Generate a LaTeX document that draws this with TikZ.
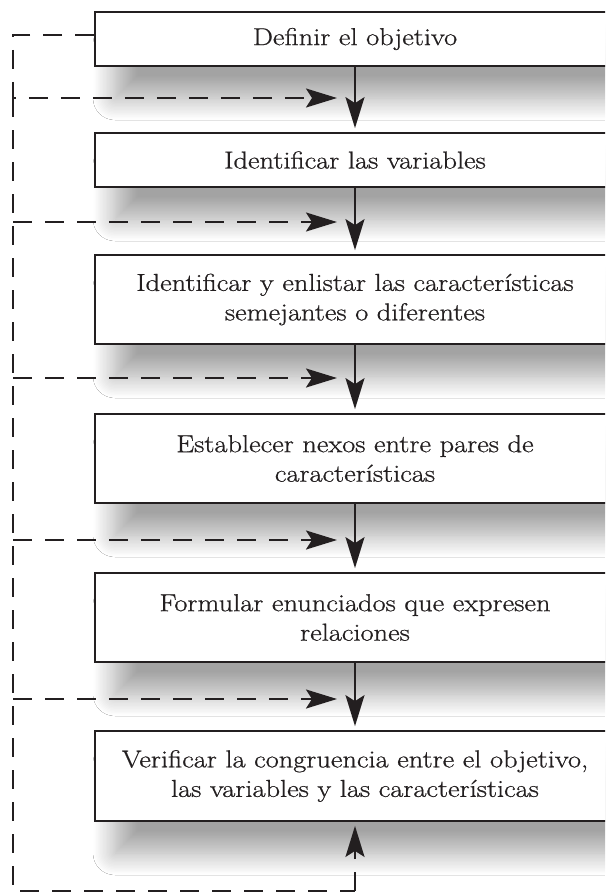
\documentclass[tikz,border=0pt]{standalone}
\usepackage{fontspec}
\setmainfont{Latin Modern Roman}[FakeStretch=1.16, FakeBold=0.8]
\usetikzlibrary{arrows.meta,shadows.blur}
\definecolor{ink}{HTML}{231F20}
\begin{document}
\begin{tikzpicture}[x=1pt,y=-1pt,
  stepbox/.style={draw=ink, line width=1.8pt, fill=white, minimum width=520pt,
    inner sep=0pt, align=center, text=ink,
    font=\fontsize{24.5}{29.5}\selectfont,
    blur shadow={shadow xshift=20pt, shadow yshift=-32pt, shadow blur radius=22pt,
      shadow opacity=36, shadow blur steps=16}},
  tip/.style={-{Stealth[length=31pt, width=19pt, inset=6pt]}},
  flow/.style={draw=ink, line width=1.8pt, tip, shorten >=4pt},
  dl/.style={draw=ink, line width=2pt, dash pattern=on 19pt off 13pt}]
\path[use as bounding box, clip] (0,0) rectangle (605,894);
\fill[white] (0,0) rectangle (605,894);

\node[stepbox, minimum height=54pt] (b1) at (355,39) {Definir el objetivo};
\node[stepbox, minimum height=54pt] (b2) at (355,160) {Identificar las variables};
\node[stepbox, minimum height=89pt] (b3) at (355,299.5) {Identificar y enlistar las características\\semejantes o diferentes};
\node[stepbox, minimum height=89pt] (b4) at (355,458.5) {Establecer nexos entre pares de\\características};
\node[stepbox, minimum height=89pt] (b5) at (355,617.5) {Formular enunciados que expresen\\relaciones};
\node[stepbox, minimum height=90pt] (b6) at (355,776) {Verificar la congruencia entre el objetivo,\\las variables y las características};

\draw[flow] (b1.south) -- (b2.north);
\draw[flow] (b2.south) -- (b3.north);
\draw[flow] (b3.south) -- (b4.north);
\draw[flow] (b4.south) -- (b5.north);
\draw[flow] (b5.south) -- (b6.north);

\coordinate (tl) at (13,35);
\coordinate (bl) at (13,891);
\coordinate (br) at (355,891);
\coordinate (m1) at (355,98);
\coordinate (m2) at (355,222);
\coordinate (m3) at (355,378);
\coordinate (m4) at (355,540);
\coordinate (m5) at (355,699);

\draw[dl, tip] (b1.west |- tl) -- (tl) -- (tl |- m1) -- ([xshift=-18pt]m1);
\draw[dl] (tl |- m1) -- (bl) -- (br);
\draw[dl, tip, shorten >=4pt] (br) -- (b6.south);
\foreach \m in {m2,m3,m4,m5}
  \draw[dl, tip] (tl |- \m) -- ([xshift=-18pt]\m);
\end{tikzpicture}
\end{document}
